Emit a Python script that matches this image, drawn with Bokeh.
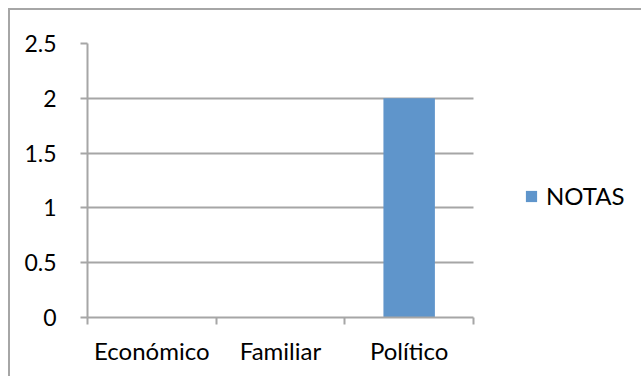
from bokeh.plotting import figure
from bokeh.models import (ColumnDataSource, Range1d, FixedTicker,
                          CustomJSTickFormatter, Legend, LegendItem)
from bokeh.embed import file_html
from bokeh.resources import INLINE

categories = ["Económico", "Familiar", "Político"]
notas = [0, 0, 2]
y_ticks = [0, 0.5, 1, 1.5, 2, 2.5]
series_name = "NOTAS"

FONT = "Lato"
GRAY = "#a6a6a6"
BAR = "#5f95cb"

W, H = 633, 368
LEFT, TOP, BOTTOM = 77, 33, 61
PLOT_W = 386                      # width of the plotting area (px)
FRAME_W = W - LEFT
n = len(categories)

centers = [i + 0.5 for i in range(n)]
src = ColumnDataSource(dict(x=centers, cat=categories, val=notas))

p = figure(x_range=Range1d(0, n * FRAME_W / PLOT_W), y_range=Range1d(0, 2.5),
           width=W, height=H, output_backend="svg", toolbar_location=None,
           min_border_left=LEFT, min_border_right=0, min_border_top=TOP,
           min_border_bottom=BOTTOM)
p.outline_line_color = None
p.styles = {"margin-left": "8px", "margin-top": "8px",
            "border-left": f"2px solid {GRAY}", "border-top": f"2px solid {GRAY}"}

r = p.vbar(x="x", top="val", width=0.4, source=src, fill_color=BAR, line_color=None)

p.xgrid.visible = False
xax = p.xaxis[0]
xax.bounds = (0, n)
xax.ticker = FixedTicker(ticks=centers, minor_ticks=list(range(n + 1)))
xax.major_label_overrides = {c: t for c, t in zip(centers, categories)}
xax.axis_line_color = GRAY
xax.axis_line_width = 2
xax.major_tick_out = 0
xax.major_tick_in = 0
xax.minor_tick_out = 7
xax.minor_tick_in = 0
xax.minor_tick_line_color = GRAY
xax.minor_tick_line_width = 2
xax.major_label_text_font = FONT
xax.major_label_text_font_size = "24px"
xax.major_label_text_color = "#000000"
xax.major_label_standoff = 11

yax = p.yaxis[0]
yax.ticker = FixedTicker(ticks=y_ticks, minor_ticks=[])
yax.formatter = CustomJSTickFormatter(code="return tick.toString();")
yax.axis_line_color = GRAY
yax.axis_line_width = 2
yax.major_tick_out = 7
yax.major_tick_in = 0
yax.major_tick_line_color = GRAY
yax.major_tick_line_width = 2
yax.minor_tick_line_color = None
yax.major_label_text_font = FONT
yax.major_label_text_font_size = "23px"
yax.major_label_text_color = "#000000"
yax.major_label_standoff = 24

p.ygrid.grid_line_color = GRAY
p.ygrid.grid_line_width = 2
p.ygrid.cross_bounds = (0, n)

legend = Legend(items=[LegendItem(label=series_name, renderers=[r])],
                location=(437, 107), orientation="vertical",
                padding=0, margin=0, border_line_color=None,
                background_fill_alpha=0, glyph_width=14, glyph_height=14,
                label_standoff=8, label_text_font=FONT,
                label_text_font_size="24px", label_text_color="#000000")
p.add_layout(legend, "center")

open("out.html", "w").write(file_html(p, INLINE))
